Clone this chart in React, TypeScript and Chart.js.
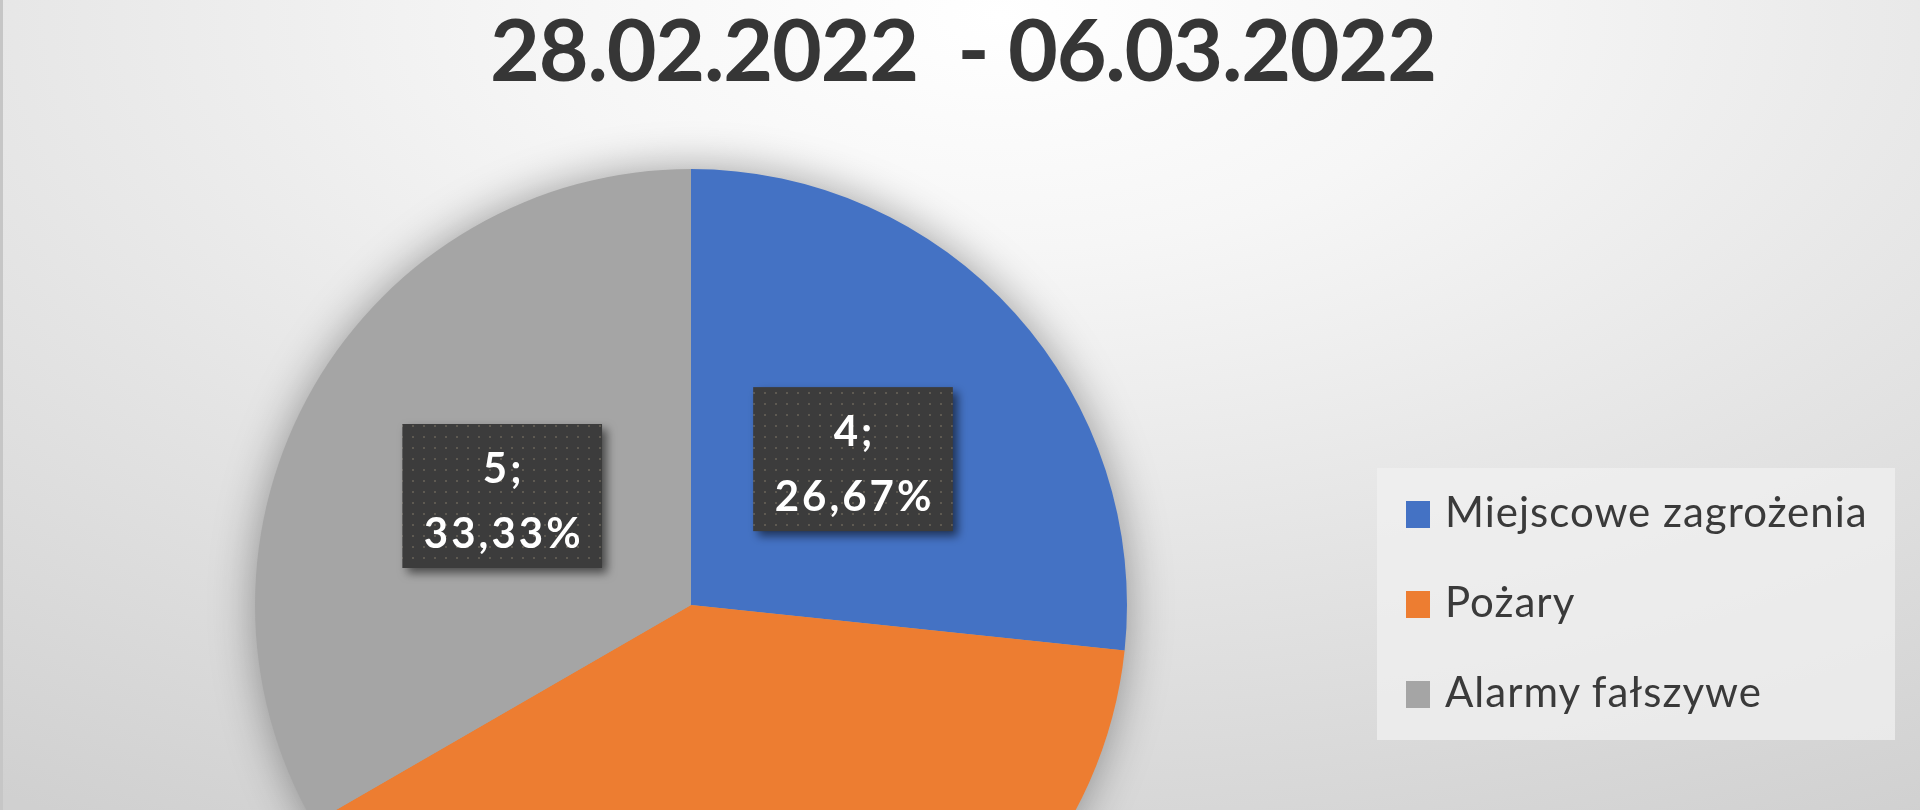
import { useEffect, useRef } from 'react';
import Chart from 'chart.js/auto';

const title = '28.02.2022  - 06.03.2022';
const categories = ['Miejscowe zagrożenia', 'Pożary', 'Alarmy fałszywe'];
const values = [4, 6, 5];
const colors = ['#4472C4', '#ED7D31', '#A5A5A5'];
// the orange label sits below the visible area in the original
const labelShown = [true, false, true];

const FONT = 'Lato, "Open Sans", sans-serif';

function makeDots(ctx: CanvasRenderingContext2D) {
  const c = document.createElement('canvas');
  c.width = 11;
  c.height = 11;
  const g = c.getContext('2d')!;
  g.fillStyle = '#3c3c3c';
  g.fillRect(0, 0, 11, 11);
  g.fillStyle = '#5e5a52';
  g.fillRect(4, 4, 2, 2);
  return ctx.createPattern(c, 'repeat');
}

const pieShadow = {
  id: 'pieShadow',
  beforeDatasetsDraw(chart: any) {
    const arc = chart.getDatasetMeta(0).data[0];
    if (!arc) return;
    const { x, y, outerRadius } = arc.getProps(['x', 'y', 'outerRadius'], true);
    const ctx = chart.ctx;
    ctx.save();
    ctx.shadowColor = 'rgba(0,0,0,0.38)';
    ctx.shadowBlur = 45;
    ctx.fillStyle = '#a5a5a5';
    ctx.beginPath();
    ctx.arc(x, y, outerRadius - 1, 0, Math.PI * 2);
    ctx.fill();
    ctx.restore();
  }
};

const boxLabels = {
  id: 'boxLabels',
  afterDatasetsDraw(chart: any) {
    const ctx = chart.ctx;
    const data = chart.data.datasets[0].data as number[];
    const total = data.reduce((a, b) => a + b, 0);
    const dots = makeDots(ctx);
    chart.getDatasetMeta(0).data.forEach((arc: any, i: number) => {
      if (!labelShown[i]) return;
      const p = arc.getProps(['x', 'y', 'startAngle', 'endAngle', 'outerRadius'], true);
      const mid = (p.startAngle + p.endAngle) / 2;
      const cx = p.x + Math.cos(mid) * p.outerRadius * 0.5;
      const cy = p.y + Math.sin(mid) * p.outerRadius * 0.5;
      const line1 = data[i] + ';';
      const line2 = ((data[i] / total) * 100).toFixed(2).replace('.', ',') + '%';

      ctx.save();
      ctx.font = 'bold 42px ' + FONT;
      (ctx as any).letterSpacing = '3px';
      const w = Math.max(ctx.measureText(line1).width, ctx.measureText(line2).width) + 40;
      const h = 144;
      ctx.shadowColor = 'rgba(0,0,0,0.55)';
      ctx.shadowBlur = 10;
      ctx.shadowOffsetX = 5;
      ctx.shadowOffsetY = 5;
      ctx.fillStyle = dots || '#3c3c3c';
      ctx.fillRect(cx - w / 2, cy - h / 2, w, h);
      ctx.shadowColor = 'transparent';
      ctx.fillStyle = '#ffffff';
      ctx.textAlign = 'center';
      ctx.textBaseline = 'alphabetic';
      ctx.fillText(line1, cx + 1.5, cy - 13);
      ctx.fillText(line2, cx + 1.5, cy + 52);
      ctx.restore();
    });
  }
};

function PieChart() {
  const chartRef = useRef<HTMLCanvasElement>(null);
  const chartInstance = useRef<Chart | null>(null);

  useEffect(() => {
    if (!chartRef.current) return;
    const ctx = chartRef.current.getContext('2d');
    if (!ctx) return;

    if (chartInstance.current) {
      chartInstance.current.destroy();
      chartInstance.current = null;
    }

    chartInstance.current = new Chart(ctx, {
      type: 'pie',
      data: {
        labels: categories,
        datasets: [
          {
            data: values,
            backgroundColor: colors,
            borderWidth: 0
          }
        ]
      },
      options: {
        responsive: true,
        maintainAspectRatio: false,
        animation: false,
        layout: { padding: 100 },
        plugins: {
          legend: { display: false },
          tooltip: { enabled: false }
        }
      },
      plugins: [pieShadow, boxLabels]
    });

    return () => {
      if (chartInstance.current) {
        chartInstance.current.destroy();
        chartInstance.current = null;
      }
    };
  }, []);

  return (
    <div style={{ position: 'absolute', left: 152, top: 69, width: 1072, height: 1072 }}>
      <canvas ref={chartRef}></canvas>
    </div>
  );
}

export default function App() {
  return (
    <div
      style={{
        position: 'fixed',
        left: 0,
        top: 0,
        width: 1920,
        height: 810,
        overflow: 'hidden',
        boxSizing: 'border-box',
        borderLeft: '3px solid #c6c6c6',
        background:
          'radial-gradient(ellipse 95% 115% at 52% 2%, #ffffff 0%, #f6f6f6 25%, #e4e4e4 60%, #d0d0d0 100%)',
        fontFamily: FONT
      }}
    >
      <div
        style={{
          position: 'absolute',
          left: 0,
          top: 5,
          width: 1920,
          textAlign: 'center',
          fontSize: 86,
          lineHeight: 1,
          fontWeight: 700,
          letterSpacing: '-1.2px',
          color: '#363636',
          whiteSpace: 'pre'
        }}
      >
        {title}
      </div>

      <PieChart />

      <div
        style={{
          position: 'absolute',
          left: 1374,
          top: 468,
          width: 518,
          height: 272,
          background: 'rgba(240,240,240,0.75)'
        }}
      ></div>
      <div style={{ position: 'absolute', left: 1403, top: 466 }}>
        {categories.map((c, i) => (
          <div
            key={c}
            style={{
              display: 'flex',
              alignItems: 'center',
              height: 90,
              fontSize: 42,
              letterSpacing: '1px',
              color: '#3a3a3a',
              whiteSpace: 'nowrap'
            }}
          >
            <span
              style={{
                display: 'inline-block',
                width: 24,
                height: 27,
                background: colors[i],
                marginRight: 15,
                marginTop: 6
              }}
            ></span>
            {c}
          </div>
        ))}
      </div>
    </div>
  );
}
